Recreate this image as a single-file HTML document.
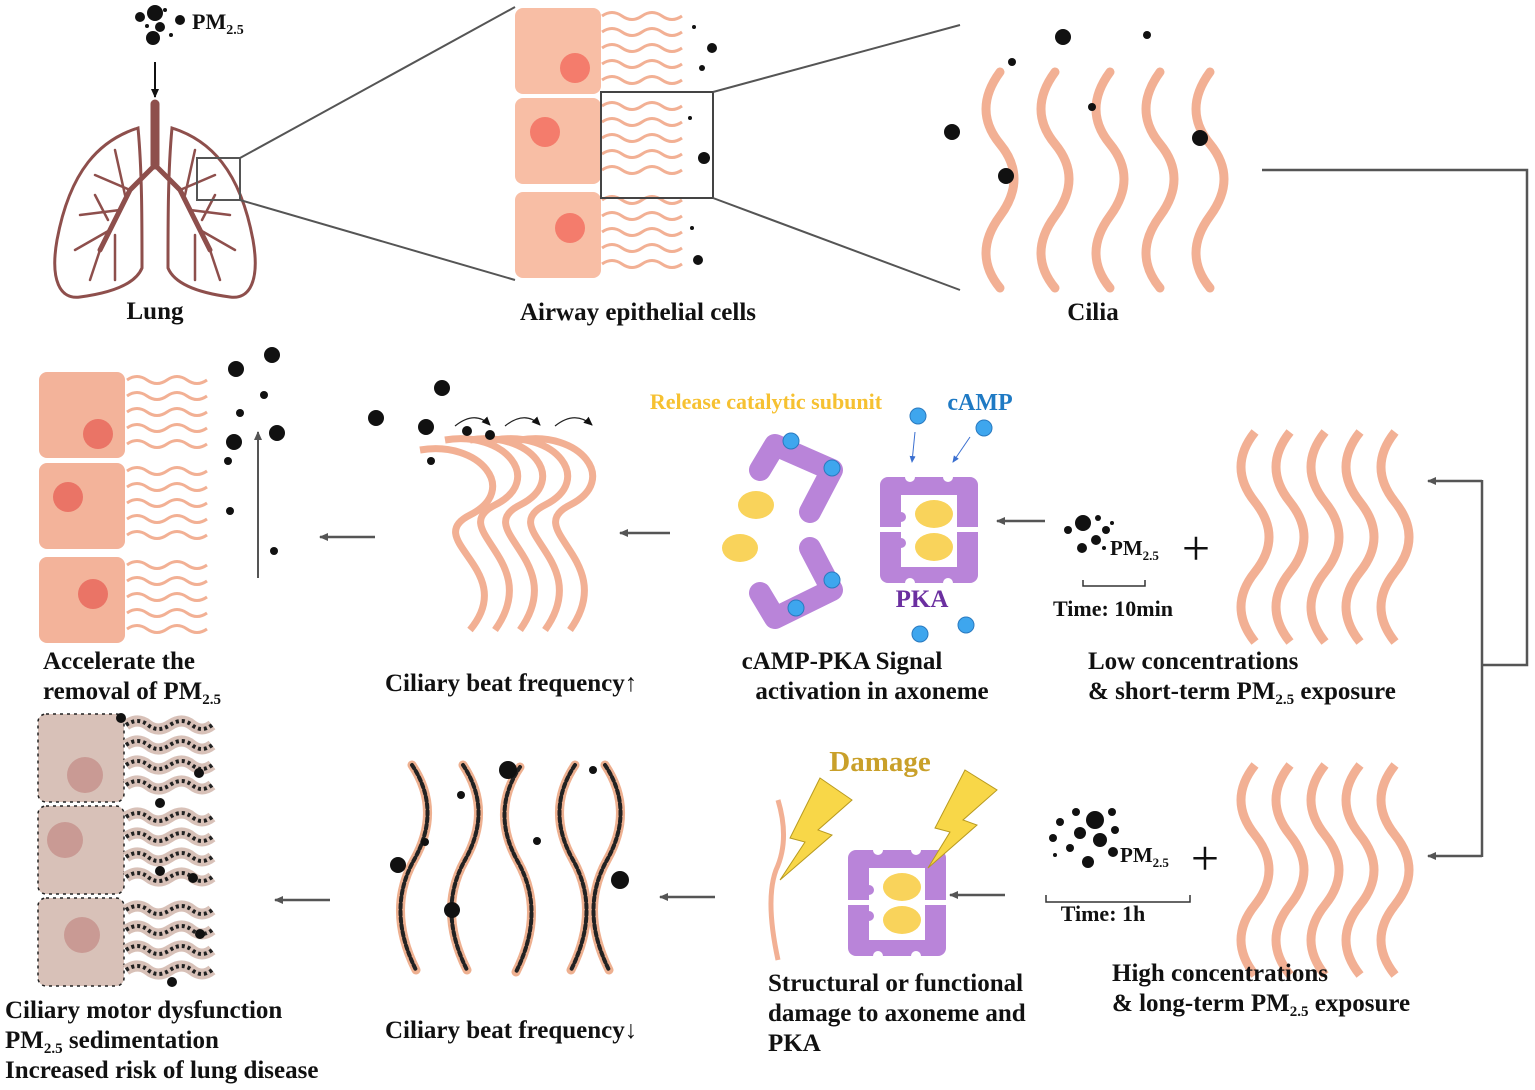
<!DOCTYPE html>
<html><head><meta charset="utf-8"><style>
html,body{margin:0;padding:0;background:#fff;width:1535px;height:1090px;overflow:hidden}
svg{display:block}
text{font-family:"Liberation Serif",serif;font-weight:bold;font-size:25px;fill:#111}
</style></head><body>
<svg width="1535" height="1090" viewBox="0 0 1535 1090" xmlns="http://www.w3.org/2000/svg">
<defs>
<marker id="ah" markerWidth="10" markerHeight="10" refX="8" refY="5" orient="auto" markerUnits="userSpaceOnUse"><path d="M0,1 L9,5 L0,9 Z" fill="#555"/></marker>
<marker id="ahb" markerWidth="10" markerHeight="10" refX="8" refY="5" orient="auto" markerUnits="userSpaceOnUse"><path d="M0,1 L9,5 L0,9 Z" fill="#111"/></marker>
<marker id="ahs" markerWidth="8" markerHeight="8" refX="6" refY="4" orient="auto" markerUnits="userSpaceOnUse"><path d="M0,1 L7,4 L0,7 Z" fill="#3a6fd0"/></marker>
<g id="vc"><path d="M0,0 q-28,38 0,72 t0,72 t0,72" fill="none" stroke="#f2b094" stroke-width="9" stroke-linecap="round"/></g>
<g id="vcs"><path d="M0,0 q-28,35 0,70 t0,70 t0,70" fill="none" stroke="#f2b094" stroke-width="9"/></g>
<g id="hw"><path d="M0,0 q10,-7 20,0 t20,0 t20,0 t20,0" fill="none" stroke="#f2b094" stroke-width="3"/></g>
<g id="hw5"><use href="#hw" y="8"/><use href="#hw" y="24"/><use href="#hw" y="40"/><use href="#hw" y="56"/><use href="#hw" y="72"/></g>
<g id="cell"><rect x="0" y="0" width="86" height="86" rx="8" fill="#f8bea5"/></g>
<g id="pka">
<rect x="0" y="0" width="98" height="106" rx="8" fill="#b984d9"/>
<rect x="21" y="18" width="56" height="72" fill="#fff"/>
<rect x="0" y="50" width="98" height="5" fill="#fff"/>
<circle cx="30" cy="0" r="5" fill="#fff"/><circle cx="68" cy="0" r="5" fill="#fff"/>
<circle cx="30" cy="106" r="5" fill="#fff"/><circle cx="68" cy="106" r="5" fill="#fff"/>
<circle cx="21" cy="40" r="5" fill="#b984d9"/><circle cx="21" cy="66" r="5" fill="#b984d9"/>
<ellipse cx="54" cy="37" rx="19" ry="14" fill="#f9d35b"/><ellipse cx="54" cy="70" rx="19" ry="14" fill="#f9d35b"/>
</g>
</defs>

<!-- PM top -->
<g fill="#111"><circle cx="155" cy="13" r="8"/><circle cx="140" cy="17" r="5"/><circle cx="165" cy="10" r="2"/><circle cx="180" cy="20" r="5"/><circle cx="160" cy="27" r="5"/><circle cx="147" cy="26" r="2"/><circle cx="153" cy="38" r="7"/><circle cx="171" cy="35" r="2"/></g>
<text x="192" y="29" style="font-size:22px">PM<tspan font-size="14" dy="5">2.5</tspan></text>
<line x1="155" y1="62" x2="155" y2="97" stroke="#111" stroke-width="2" marker-end="url(#ahb)"/>

<!-- Lung -->
<g fill="none" stroke="#8e4f4c" stroke-linecap="round">
<path d="M155,104 L155,165" stroke-width="9"/>
<path d="M155,165 L130,190 L100,250 M155,165 L180,190 L210,250" stroke-width="5"/>
<path d="M138,128 C100,140 70,170 57,240 C50,280 60,300 80,297 C110,293 135,285 142,268 C142,220 142,170 138,128 Z" stroke-width="3"/>
<path d="M172,128 C210,140 240,170 253,240 C260,280 250,300 230,297 C200,293 175,285 168,268 C168,220 168,170 172,128 Z" stroke-width="3"/>
<path d="M130,190 L95,175 M120,210 L80,215 M110,230 L75,250 M115,235 L115,280 M100,250 L90,280 M125,195 L115,150 M108,220 L95,195 M180,190 L215,175 M190,210 L230,215 M200,230 L235,250 M195,235 L195,280 M210,250 L220,280 M185,195 L195,150 M202,220 L215,195" stroke-width="2.5"/>
</g>
<rect x="197" y="158" width="43" height="42" fill="none" stroke="#555" stroke-width="2"/>
<line x1="240" y1="158" x2="515" y2="7" stroke="#555" stroke-width="2"/>
<line x1="240" y1="200" x2="515" y2="280" stroke="#555" stroke-width="2"/>
<text x="155" y="319" text-anchor="middle">Lung</text>

<!-- Airway cells -->
<use href="#cell" x="515" y="8"/><use href="#cell" x="515" y="98"/><use href="#cell" x="515" y="192"/>
<g fill="#f47c6c"><circle cx="575" cy="68" r="15"/><circle cx="545" cy="132" r="15"/><circle cx="570" cy="228" r="15"/></g>
<use href="#hw5" x="602" y="8"/><use href="#hw5" x="602" y="98"/><use href="#hw5" x="602" y="192"/>
<g fill="#111"><circle cx="694" cy="27" r="2"/><circle cx="712" cy="48" r="5"/><circle cx="702" cy="68" r="3"/><circle cx="690" cy="118" r="2"/><circle cx="704" cy="158" r="6"/><circle cx="692" cy="228" r="2"/><circle cx="698" cy="260" r="5"/></g>
<rect x="601" y="92" width="112" height="106" fill="none" stroke="#444" stroke-width="2"/>
<line x1="713" y1="92" x2="960" y2="25" stroke="#555" stroke-width="2"/>
<line x1="713" y1="198" x2="960" y2="290" stroke="#555" stroke-width="2"/>
<text x="638" y="320" text-anchor="middle">Airway epithelial cells</text>

<!-- Cilia top -->
<use href="#vc" x="1000" y="72"/><use href="#vc" x="1055" y="72"/><use href="#vc" x="1110" y="72"/><use href="#vc" x="1160" y="72"/><use href="#vc" x="1210" y="72"/>
<g fill="#111"><circle cx="1063" cy="37" r="8"/><circle cx="1147" cy="35" r="4"/><circle cx="1012" cy="62" r="4"/><circle cx="952" cy="132" r="8"/><circle cx="1092" cy="107" r="4"/><circle cx="1200" cy="138" r="8"/><circle cx="1006" cy="176" r="8"/></g>
<text x="1093" y="320" text-anchor="middle">Cilia</text>

<!-- connectors right -->
<polyline points="1262,170 1527,170 1527,665 1482,665" fill="none" stroke="#555" stroke-width="2.5"/>
<line x1="1482" y1="480" x2="1482" y2="857" stroke="#555" stroke-width="2.5"/>
<line x1="1482" y1="481" x2="1428" y2="481" stroke="#555" stroke-width="2.5" marker-end="url(#ah)"/>
<line x1="1482" y1="856" x2="1428" y2="856" stroke="#555" stroke-width="2.5" marker-end="url(#ah)"/>

<!-- Low exposure cilia -->
<use href="#vcs" x="1255" y="432"/><use href="#vcs" x="1290" y="432"/><use href="#vcs" x="1325" y="432"/><use href="#vcs" x="1360" y="432"/><use href="#vcs" x="1395" y="432"/>
<g fill="#111"><circle cx="1083" cy="523" r="8"/><circle cx="1068" cy="530" r="4"/><circle cx="1098" cy="518" r="3"/><circle cx="1106" cy="530" r="4"/><circle cx="1096" cy="540" r="5"/><circle cx="1082" cy="548" r="5"/><circle cx="1112" cy="523" r="2"/><circle cx="1104" cy="548" r="2"/></g>
<text x="1110" y="555" style="font-size:21px">PM<tspan font-size="13" dy="5">2.5</tspan></text>
<text x="1196" y="565" text-anchor="middle" style="font-size:50px;font-weight:normal">+</text>
<polyline points="1083,580 1083,586 1145,586 1145,580" fill="none" stroke="#333" stroke-width="1.5"/>
<text x="1113" y="616" text-anchor="middle" style="font-size:22px">Time: 10min</text>
<text x="1088" y="669">Low concentrations</text>
<text x="1088" y="699">&amp; short-term PM<tspan font-size="15" dy="5">2.5</tspan><tspan dy="-5"> exposure</tspan></text>
<line x1="1045" y1="521" x2="997" y2="521" stroke="#555" stroke-width="2.5" marker-end="url(#ah)"/>

<!-- PKA -->
<use href="#pka" x="880" y="477"/>
<text x="922" y="607" text-anchor="middle" style="fill:#6b2fa0">PKA</text>
<text x="980" y="410" text-anchor="middle" style="fill:#1f7ac4;font-size:24px">cAMP</text>
<text x="766" y="409" text-anchor="middle" style="fill:#f6c131;font-size:22px">Release catalytic subunit</text>
<g fill="#3ea6ee" stroke="#2a7ac0" stroke-width="1"><circle cx="918" cy="416" r="8"/><circle cx="984" cy="428" r="8"/><circle cx="920" cy="634" r="8"/><circle cx="966" cy="625" r="8"/></g>
<line x1="915" y1="432" x2="912" y2="462" stroke="#3a6fd0" stroke-width="1" marker-end="url(#ahs)"/>
<line x1="970" y1="437" x2="953" y2="462" stroke="#3a6fd0" stroke-width="1" marker-end="url(#ahs)"/>
<!-- open PKA -->
<g fill="none" stroke="#b984d9" stroke-width="22" stroke-linejoin="round" stroke-linecap="round">
<path d="M760,470 L775,445 L832,470 L810,512"/>
<path d="M760,593 L775,618 L832,590 L810,548"/>
</g>
<g fill="#f9d35b"><ellipse cx="756" cy="505" rx="18" ry="14"/><ellipse cx="740" cy="548" rx="18" ry="14"/></g>
<g fill="#3ea6ee" stroke="#2a7ac0" stroke-width="1"><circle cx="791" cy="441" r="8"/><circle cx="832" cy="468" r="8"/><circle cx="832" cy="580" r="8"/><circle cx="796" cy="608" r="8"/></g>
<text x="842" y="669" text-anchor="middle">cAMP-PKA Signal</text>
<text x="872" y="699" text-anchor="middle">activation in axoneme</text>
<line x1="670" y1="533" x2="620" y2="533" stroke="#555" stroke-width="2.5" marker-end="url(#ah)"/>

<!-- bending cilia -->
<g fill="none" stroke="#f2b094" stroke-width="7">
<path d="M420,450 C480,440 520,490 470,515 C420,540 520,570 470,630"/>
<path d="M445,440 C505,430 545,480 495,505 C445,530 545,560 495,630"/>
<path d="M470,440 C530,430 570,480 520,505 C470,530 570,560 520,630"/>
<path d="M495,440 C555,430 595,480 545,505 C495,530 595,560 545,630"/>
<path d="M520,440 C580,430 620,480 570,505 C520,530 620,560 570,630"/>
</g>
<g fill="none" stroke="#222" stroke-width="1.2">
<path d="M455,426 Q475,410 490,425" marker-end="url(#ahb)"/>
<path d="M505,426 Q525,410 540,425" marker-end="url(#ahb)"/>
<path d="M555,426 Q575,410 592,425" marker-end="url(#ahb)"/>
</g>
<g fill="#111"><circle cx="442" cy="388" r="8"/><circle cx="376" cy="418" r="8"/><circle cx="426" cy="427" r="8"/><circle cx="467" cy="431" r="5"/><circle cx="490" cy="435" r="5"/><circle cx="431" cy="461" r="4"/></g>
<text x="385" y="691">Ciliary beat frequency↑</text>
<line x1="375" y1="537" x2="320" y2="537" stroke="#555" stroke-width="2.5" marker-end="url(#ah)"/>

<!-- Left cells accelerated -->
<rect x="39" y="372" width="86" height="86" rx="8" fill="#f3b39a"/><rect x="39" y="463" width="86" height="86" rx="8" fill="#f3b39a"/><rect x="39" y="557" width="86" height="86" rx="8" fill="#f3b39a"/>
<g fill="#ea7466"><circle cx="98" cy="434" r="15"/><circle cx="68" cy="497" r="15"/><circle cx="93" cy="594" r="15"/></g>
<use href="#hw5" x="127" y="372"/><use href="#hw5" x="127" y="463"/><use href="#hw5" x="127" y="557"/>
<g fill="#111"><circle cx="236" cy="369" r="8"/><circle cx="272" cy="355" r="8"/><circle cx="264" cy="395" r="4"/><circle cx="240" cy="413" r="4"/><circle cx="234" cy="442" r="8"/><circle cx="277" cy="433" r="8"/><circle cx="228" cy="461" r="4"/><circle cx="230" cy="511" r="4"/><circle cx="274" cy="551" r="4"/></g>
<line x1="258" y1="578" x2="258" y2="432" stroke="#555" stroke-width="2" marker-end="url(#ah)"/>
<text x="43" y="669">Accelerate the</text>
<text x="43" y="699">removal of PM<tspan font-size="15" dy="5">2.5</tspan></text>

<!-- High exposure -->
<use href="#vcs" x="1255" y="765"/><use href="#vcs" x="1290" y="765"/><use href="#vcs" x="1325" y="765"/><use href="#vcs" x="1360" y="765"/><use href="#vcs" x="1395" y="765"/>
<g fill="#111"><circle cx="1095" cy="820" r="9"/><circle cx="1076" cy="812" r="4"/><circle cx="1112" cy="812" r="4"/><circle cx="1060" cy="822" r="4"/><circle cx="1080" cy="833" r="6"/><circle cx="1053" cy="838" r="4"/><circle cx="1100" cy="840" r="7"/><circle cx="1115" cy="830" r="4"/><circle cx="1070" cy="848" r="4"/><circle cx="1088" cy="862" r="6"/><circle cx="1113" cy="852" r="5"/><circle cx="1055" cy="855" r="2"/></g>
<text x="1120" y="862" style="font-size:21px">PM<tspan font-size="13" dy="5">2.5</tspan></text>
<text x="1205" y="875" text-anchor="middle" style="font-size:50px;font-weight:normal">+</text>
<polyline points="1046,895 1046,902 1190,902 1190,895" fill="none" stroke="#333" stroke-width="1.5"/>
<text x="1103" y="921" text-anchor="middle" style="font-size:22px">Time: 1h</text>
<text x="1112" y="981">High concentrations</text>
<text x="1112" y="1011">&amp; long-term PM<tspan font-size="15" dy="5">2.5</tspan><tspan dy="-5"> exposure</tspan></text>
<line x1="1005" y1="895" x2="950" y2="895" stroke="#555" stroke-width="2.5" marker-end="url(#ah)"/>

<!-- Damage -->
<text x="880" y="771" text-anchor="middle" style="font-size:29px;fill:#c9a02a">Damage</text>
<use href="#pka" x="848" y="850"/>
<path d="M778,800 Q790,840 776,870 Q765,900 778,960" fill="none" stroke="#f2b094" stroke-width="5"/>
<path d="M820,778 L852,800 L818,830 L832,835 L780,880 L805,842 L790,838 Z" fill="#f8d748" stroke="#b89a20" stroke-width="1"/>
<path d="M965,770 L997,790 L963,820 L977,825 L928,868 L950,832 L935,828 Z" fill="#f8d748" stroke="#b89a20" stroke-width="1"/>
<text x="768" y="991">Structural or functional</text>
<text x="768" y="1021">damage to axoneme and</text>
<text x="768" y="1051">PKA</text>
<line x1="715" y1="897" x2="660" y2="897" stroke="#555" stroke-width="2.5" marker-end="url(#ah)"/>

<!-- damaged cilia -->
<g fill="none" stroke-linecap="round">
<g stroke="#eeb090" stroke-width="9">
<path d="M412,765 q30,45 2,95 t2,110"/><path d="M463,765 q30,45 2,95 t2,110"/><path d="M520,767 q-30,45 -2,95 t-2,110"/><path d="M575,765 q-30,45 -2,95 t-2,110"/><path d="M605,765 q30,45 2,95 t2,110"/>
</g>
<g stroke="#222" stroke-width="4" stroke-dasharray="4 3">
<path d="M412,765 q30,45 2,95 t2,110"/><path d="M463,765 q30,45 2,95 t2,110"/><path d="M520,767 q-30,45 -2,95 t-2,110"/><path d="M575,765 q-30,45 -2,95 t-2,110"/><path d="M605,765 q30,45 2,95 t2,110"/>
</g>
</g>
<g fill="#111"><circle cx="508" cy="770" r="9"/><circle cx="593" cy="770" r="4"/><circle cx="461" cy="795" r="4"/><circle cx="425" cy="842" r="4"/><circle cx="398" cy="865" r="8"/><circle cx="620" cy="880" r="9"/><circle cx="537" cy="841" r="4"/><circle cx="452" cy="910" r="8"/></g>
<text x="385" y="1038">Ciliary beat frequency↓</text>
<line x1="330" y1="900" x2="275" y2="900" stroke="#555" stroke-width="2.5" marker-end="url(#ah)"/>

<!-- damaged cells -->
<g fill="#d8c1b8" stroke="#222" stroke-width="1.5" stroke-dasharray="3 4">
<rect x="38" y="714" width="86" height="88" rx="8"/><rect x="38" y="806" width="86" height="88" rx="8"/><rect x="38" y="898" width="86" height="88" rx="8"/>
</g>
<g fill="#c99a94"><circle cx="85" cy="775" r="18"/><circle cx="65" cy="840" r="18"/><circle cx="82" cy="935" r="18"/></g>
<g fill="none">
<g stroke="#d8c1b8" stroke-width="11">
<path d="M126,725 q12,-8 22,0 t22,0 t22,0 t20,0"/><path d="M126,745 q12,-8 22,0 t22,0 t22,0 t20,0"/><path d="M126,765 q12,-8 22,0 t22,0 t22,0 t20,0"/><path d="M126,785 q12,-8 22,0 t22,0 t22,0 t20,0"/>
<path d="M126,817 q12,-8 22,0 t22,0 t22,0 t20,0"/><path d="M126,837 q12,-8 22,0 t22,0 t22,0 t20,0"/><path d="M126,857 q12,-8 22,0 t22,0 t22,0 t20,0"/><path d="M126,877 q12,-8 22,0 t22,0 t22,0 t20,0"/>
<path d="M126,910 q12,-8 22,0 t22,0 t22,0 t20,0"/><path d="M126,930 q12,-8 22,0 t22,0 t22,0 t20,0"/><path d="M126,950 q12,-8 22,0 t22,0 t22,0 t20,0"/><path d="M126,970 q12,-8 22,0 t22,0 t22,0 t20,0"/>
</g>
<g stroke="#222" stroke-width="4" stroke-dasharray="3 3">
<path d="M126,725 q12,-8 22,0 t22,0 t22,0 t20,0"/><path d="M126,745 q12,-8 22,0 t22,0 t22,0 t20,0"/><path d="M126,765 q12,-8 22,0 t22,0 t22,0 t20,0"/><path d="M126,785 q12,-8 22,0 t22,0 t22,0 t20,0"/>
<path d="M126,817 q12,-8 22,0 t22,0 t22,0 t20,0"/><path d="M126,837 q12,-8 22,0 t22,0 t22,0 t20,0"/><path d="M126,857 q12,-8 22,0 t22,0 t22,0 t20,0"/><path d="M126,877 q12,-8 22,0 t22,0 t22,0 t20,0"/>
<path d="M126,910 q12,-8 22,0 t22,0 t22,0 t20,0"/><path d="M126,930 q12,-8 22,0 t22,0 t22,0 t20,0"/><path d="M126,950 q12,-8 22,0 t22,0 t22,0 t20,0"/><path d="M126,970 q12,-8 22,0 t22,0 t22,0 t20,0"/>
</g>
</g>
<g fill="#111"><circle cx="121" cy="718" r="5"/><circle cx="199" cy="773" r="5"/><circle cx="160" cy="803" r="5"/><circle cx="160" cy="871" r="5"/><circle cx="193" cy="878" r="5"/><circle cx="200" cy="934" r="5"/><circle cx="172" cy="982" r="5"/></g>
<text x="5" y="1018">Ciliary motor dysfunction</text>
<text x="5" y="1048">PM<tspan font-size="15" dy="5">2.5</tspan><tspan dy="-5"> sedimentation</tspan></text>
<text x="5" y="1078">Increased risk of lung disease</text>
</svg>
</body></html>
